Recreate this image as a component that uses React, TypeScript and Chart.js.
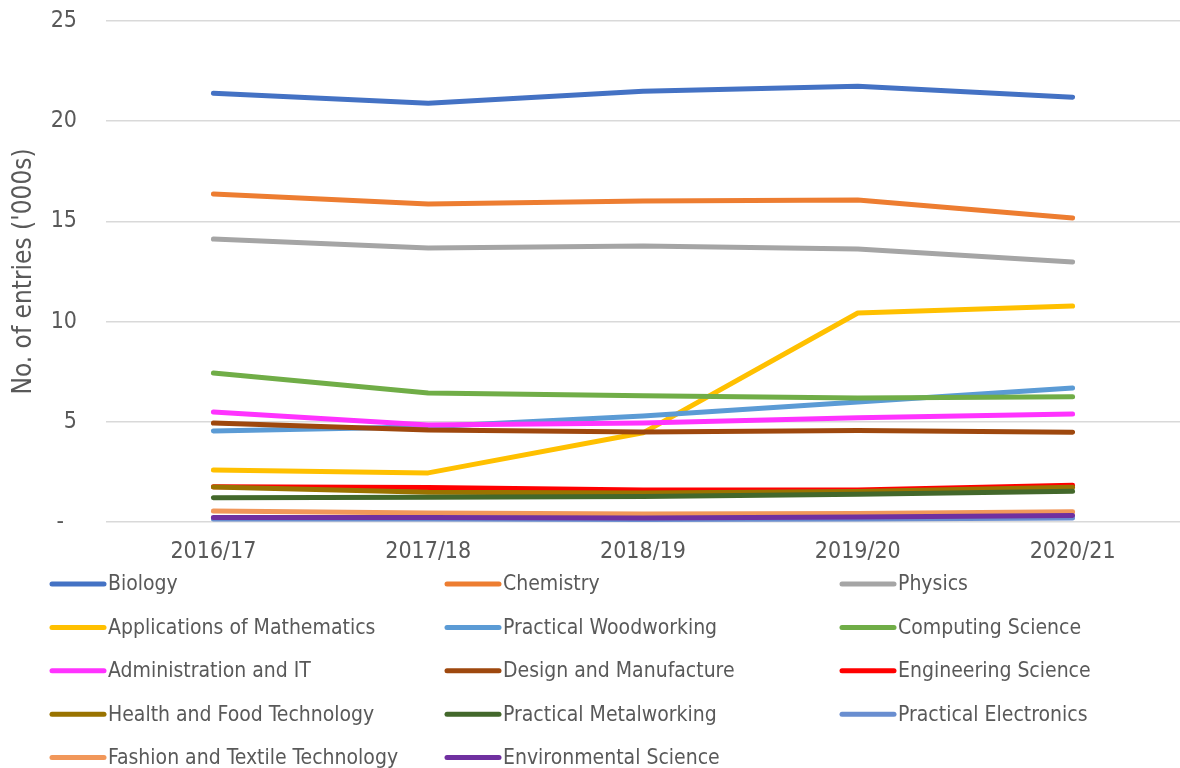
import React, { useEffect, useRef } from "react";
import { Chart, registerables } from "chart.js";

Chart.register(...registerables);

const categories = ["2016/17", "2017/18", "2018/19", "2019/20", "2020/21"];
const yTicks = [0, 5, 10, 15, 20, 25];

const seriesNames = [
  "Biology",
  "Chemistry",
  "Physics",
  "Applications of Mathematics",
  "Practical Woodworking",
  "Computing Science",
  "Administration and IT",
  "Design and Manufacture",
  "Engineering Science",
  "Health and Food Technology",
  "Practical Metalworking",
  "Practical Electronics",
  "Fashion and Textile Technology",
  "Environmental Science",
];

const biology = [21.4, 20.9, 21.5, 21.75, 21.2];
const chemistry = [16.37, 15.87, 16.02, 16.07, 15.17];
const physics = [14.12, 13.67, 13.77, 13.62, 12.97];
const appsMaths = [2.59, 2.45, 4.45, 10.43, 10.78];
const woodworking = [4.54, 4.75, 5.29, 5.99, 6.69];
const computing = [7.43, 6.44, 6.3, 6.19, 6.25];
const adminIT = [5.49, 4.84, 4.94, 5.2, 5.39];
const design = [4.94, 4.59, 4.49, 4.57, 4.48];
const engineering = [1.76, 1.72, 1.6, 1.6, 1.83];
const healthFood = [1.75, 1.48, 1.45, 1.52, 1.73];
const metalworking = [1.21, 1.24, 1.27, 1.38, 1.53];
const electronics = [0.15, 0.15, 0.13, 0.15, 0.2];
const fashion = [0.55, 0.45, 0.4, 0.43, 0.51];
const environmental = [0.23, 0.22, 0.2, 0.25, 0.33];

const seriesValues = [
  biology, chemistry, physics, appsMaths, woodworking, computing, adminIT,
  design, engineering, healthFood, metalworking, electronics, fashion, environmental,
];

const seriesColors = [
  "#4472C4", "#ED7D31", "#A5A5A5", "#FFC000", "#5B9BD5", "#70AD47", "#FF33FF",
  "#9E480E", "#FF0000", "#997300", "#43682B", "#698ED0", "#F1975A", "#7030A0",
];

const FONT = "'DejaVu Sans Condensed', 'Liberation Sans Narrow', 'DejaVu Sans', sans-serif";
const TEXT = "#595959";

const legendPlugin = {
  id: "gridLegend",
  afterDraw(chart: any) {
    const ctx = chart.ctx;
    const cols = [50, 445, 840];
    const ds = chart.data.datasets;
    ctx.save();
    ctx.font = `21px ${FONT}`;
    ctx.textBaseline = "middle";
    ctx.textAlign = "left";
    ds.forEach((d: any, i: number) => {
      const x = cols[i % 3];
      const y = 584 + Math.floor(i / 3) * 43.4;
      ctx.strokeStyle = d.borderColor;
      ctx.lineWidth = 5;
      ctx.lineCap = "round";
      ctx.beginPath();
      ctx.moveTo(x + 2, y);
      ctx.lineTo(x + 54, y);
      ctx.stroke();
      ctx.fillStyle = TEXT;
      ctx.fillText(d.label, x + 58, y + 1);
    });
    ctx.restore();
  },
};

export default function App() {
  const ref = useRef<HTMLCanvasElement | null>(null);
  useEffect(() => {
    document.body.style.margin = "0";
    document.body.style.overflow = "hidden";
    if (!ref.current) return;
    const n = seriesNames.length;
    const chart = new Chart(ref.current, {
      type: "line",
      data: {
        labels: categories,
        datasets: seriesNames.map((name, i) => ({
          label: name,
          data: seriesValues[i],
          borderColor: seriesColors[i],
          backgroundColor: seriesColors[i],
          borderWidth: 5,
          borderCapStyle: "round" as const,
          borderJoinStyle: "round" as const,
          pointRadius: 0,
          tension: 0,
          order: n - i,
        })),
      },
      options: {
        responsive: false,
        animation: false,
        layout: { padding: { top: 21, bottom: 201, left: 0, right: 0 } },
        plugins: {
          legend: { display: false },
          tooltip: { enabled: false },
        },
        scales: {
          x: {
            offset: true,
            grid: { display: false, drawTicks: false },
            border: { display: false },
            ticks: { color: TEXT, font: { family: FONT, size: 23 }, padding: 16, maxRotation: 0 },
            afterFit(scale: any) {
              scale.height = 45;
              scale.paddingLeft = 0;
              scale.paddingRight = 0;
            },
          },
          y: {
            min: 0,
            max: 25,
            afterBuildTicks(scale: any) {
              scale.ticks = yTicks.map((v) => ({ value: v }));
            },
            grid: { color: "#D9D9D9", lineWidth: 1.5, drawTicks: false },
            border: { display: false },
            ticks: {
              color: TEXT,
              font: { family: FONT, size: 23 },
              padding: 29,
              callback: (v: any) => (Number(v) === 0 ? "-  " : String(v)),
            },
            title: {
              display: true,
              text: "No. of entries ('000s)",
              color: TEXT,
              font: { family: FONT, size: 26 },
              padding: { top: 9, bottom: 0 },
            },
            afterFit(scale: any) {
              scale.width = 106;
              scale.paddingTop = 0;
              scale.paddingBottom = 0;
            },
          },
        },
      },
      plugins: [legendPlugin],
    });
    return () => chart.destroy();
  }, []);
  return <canvas ref={ref} width={1180} height={768} style={{ display: "block" }} />;
}
